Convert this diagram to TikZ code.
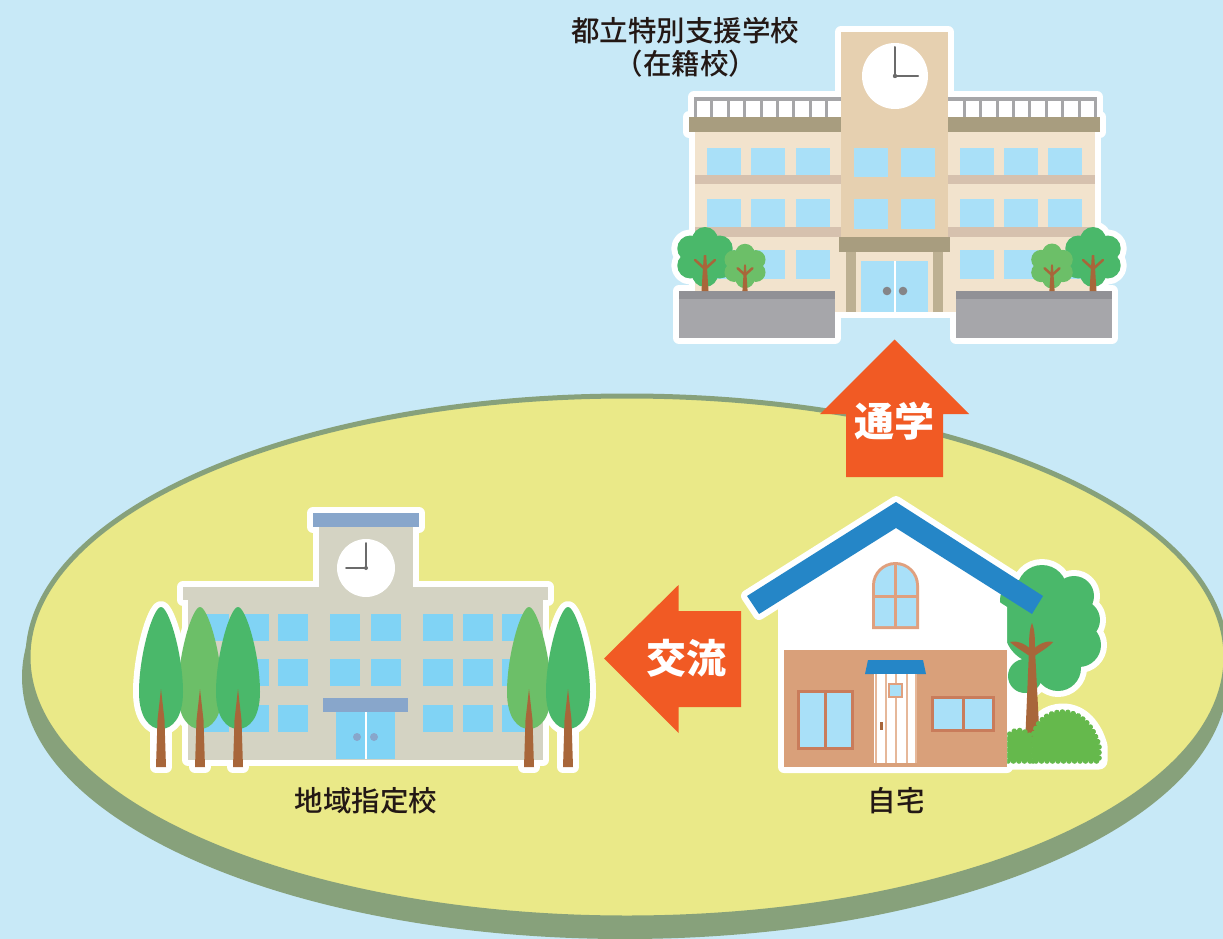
\documentclass[tikz,border=0pt]{standalone}
\usepackage{fontspec}
\usetikzlibrary{decorations.markings}
\newfontfamily\jp{Noto Sans CJK JP}
\newfontfamily\jpm{Noto Sans CJK JP Medium}
\definecolor{sky}{HTML}{C8E9F7}
\definecolor{meadow}{HTML}{EAE988}
\definecolor{rim}{HTML}{87A17B}
\definecolor{arrowc}{HTML}{F15A24}
\definecolor{towerc}{HTML}{E6D0B0}
\definecolor{wingc}{HTML}{F2E3CD}
\definecolor{bandc}{HTML}{D6C1AE}
\definecolor{corn}{HTML}{A89D7F}
\definecolor{pillar}{HTML}{BDB092}
\definecolor{glass}{HTML}{A9E0F8}
\definecolor{railc}{HTML}{A6A6A8}
\definecolor{plantop}{HTML}{919196}
\definecolor{plant}{HTML}{A6A6AA}
\definecolor{leafA}{HTML}{4AB86A}
\definecolor{leafB}{HTML}{6CBF68}
\definecolor{trunk}{HTML}{A8663A}
\definecolor{stone}{HTML}{D4D3C3}
\definecolor{capc}{HTML}{88A6CB}
\definecolor{glassB}{HTML}{80D3F5}
\definecolor{roofc}{HTML}{2586C7}
\definecolor{brick}{HTML}{D9A07A}
\definecolor{salmon}{HTML}{E0A07E}
\definecolor{doorline}{HTML}{E6B89A}
\definecolor{framec}{HTML}{C97C5B}
\definecolor{bushc}{HTML}{65B94C}
\definecolor{ink}{HTML}{231815}
\definecolor{hand}{HTML}{6B6B6B}

\tikzset{
  outline/.style={draw=white, fill=white, line width=12pt, line join=round},
  lbl/.style={font=\jpm\fontsize{28.5}{31}\selectfont, text=ink, inner sep=0pt},
  arrowlbl/.style={font=\jp\bfseries\fontsize{40}{44}\selectfont, text=white, inner sep=0pt},
  scalloped/.style={postaction={decorate, decoration={markings,
      mark=between positions 0 and 1 step 5.5pt with {\fill[bushc] (0,0) circle[radius=2.8];}}}},
}

% round deciduous canopy: x, y, scale, path style
\newcommand\roundcanopy[4]{%
  \begin{scope}[shift={(#1,#2)},scale=#3]
    \path[#4] (0,0) circle[radius=18]
      (30:17) circle[radius=13] (90:17) circle[radius=13]
      (150:17) circle[radius=13] (210:17) circle[radius=13]
      (270:17) circle[radius=13] (330:17) circle[radius=13];
  \end{scope}}
% trunk of a round tree standing on the planter top (y=291)
\newcommand\roundtrunk[3]{%
  \begin{scope}[shift={(#1,#2)},scale=#3]
    \fill[trunk] (-1.2,-2) -- (1.2,-2) -- (3.5,{(291-#2)/#3}) -- (-3.5,{(291-#2)/#3}) -- cycle;
    \draw[trunk, line width=2.5pt, line cap=round] (-10,3) -- (0,12) -- (10,3);
  \end{scope}}
% cypress canopy: centre x, path style
\newcommand\cypcanopy[2]{%
  \path[#2] (#1,607) .. controls ({#1+8},607) and ({#1+22},655) .. ({#1+22},692)
    .. controls ({#1+22},718) and ({#1+11},729) .. (#1,729)
    .. controls ({#1-11},729) and ({#1-22},718) .. ({#1-22},692)
    .. controls ({#1-22},655) and ({#1-8},607) .. (#1,607) -- cycle;}
\newcommand\cyptrunk[1]{%
  \fill[trunk] (#1,689) -- ({#1+3.5},720) -- ({#1+5},767) -- ({#1-5},767) -- ({#1-3.5},720) -- cycle;}
% canopy of the tree beside the house
\newcommand\housecanopy[1]{%
  \path[#1] (1040,628) circle[radius=36] (1042,590) circle[radius=25] (1074,596) circle[radius=20]
    (1080,620) circle[radius=20] (1079,645) circle[radius=22] (1058,668) circle[radius=23]
    (1025,676) circle[radius=17] (1020,600) circle[radius=20];}
% shrubs beside the house
\newcommand\bigbush[1]{%
  \path[#1] (1033,761) -- (1033,737) .. controls (1036,722) and (1047,712) .. (1063,712)
    .. controls (1082,712) and (1094,728) .. (1099,746) -- (1099,761) -- cycle;}
\newcommand\smallbush[1]{%
  \path[#1] (1008,761) -- (1008,736) .. controls (1013,729) and (1024,728) .. (1031,737) -- (1031,761) -- cycle;}

\begin{document}
\begin{tikzpicture}[x=1pt,y=-1pt,line join=round]
\useasboundingbox (0,0) rectangle (1223,939);
\fill[sky] (0,0) rectangle (1223,939);

% ---------- ground island ----------
\fill[rim] (625,677) ellipse[x radius=603, y radius=262];
\filldraw[fill=meadow, draw=rim, line width=5pt] (627,657) ellipse[x radius=599, y radius=261];

% ---------- special support school (top) ----------
\path[outline] (841,32) rectangle (948,312);
\path[outline] (694,97) rectangle (1097,117);
\path[outline] (689,117) rectangle (1100,132);
\path[outline] (695,132) rectangle (1095,312);
\path[outline] (679,291) rectangle (835,338);
\path[outline] (956,291) rectangle (1112,338);
\roundcanopy{705}{257}{1}{outline}
\roundcanopy{745}{266}{0.74}{outline}
\roundcanopy{1052}{266}{0.75}{outline}
\roundcanopy{1093}{257}{1}{outline}

% railing
\fill[railc] (694,97) rectangle (1097,101);
\fill[white] (694,101) rectangle (1097,117);
\foreach \i in {0,...,8} {
  \fill[railc] ({694+16.4*\i},101) rectangle ({697+16.4*\i},117);
  \fill[railc] ({1094-16.4*\i},101) rectangle ({1097-16.4*\i},117);
}
% cornice and wings
\fill[corn] (689,117) rectangle (1100,132);
\fill[wingc] (695,132) rectangle (1095,312);
\fill[bandc] (695,175) rectangle (1095,184);
\fill[bandc] (695,227) rectangle (1095,237);
\foreach \x in {707,751,796,960,1004,1048}
  \foreach \y/\yy in {148/175,199/227,250/279}
    \fill[glass] (\x,\y) rectangle ({\x+34},\yy);
% clock tower
\fill[towerc] (841,32) rectangle (948,237);
\foreach \x in {854,901}
  \foreach \y/\yy in {148/177,199/229}
    \fill[glass] (\x,\y) rectangle ({\x+34},\yy);
\fill[white] (895,76) circle[radius=33];
\draw[hand, line width=2pt, line cap=round] (895,47) -- (895,76) -- (918,76);
\fill[hand] (895,76) circle[radius=2.2];
% entrance
\fill[corn] (839,237) rectangle (950,252);
\fill[wingc] (846,252) rectangle (943,312);
\fill[pillar] (846,252) rectangle (856,312);
\fill[pillar] (933,252) rectangle (943,312);
\fill[glass] (861,261) rectangle (928,312);
\draw[white, line width=2pt] (894.5,261) -- (894.5,312);
\fill[plant!80!black] (887,291) circle[radius=4.3] (903,291) circle[radius=4.3];
% planters
\fill[plantop] (679,291) rectangle (835,299);
\fill[plant] (679,299) rectangle (835,338);
\fill[plantop] (956,291) rectangle (1112,299);
\fill[plant] (956,299) rectangle (1112,338);
% trees
\roundcanopy{705}{257}{1}{fill=leafA}
\roundtrunk{705}{257}{1}
\roundcanopy{745}{266}{0.74}{fill=leafB}
\roundtrunk{745}{266}{0.74}
\roundcanopy{1093}{257}{1}{fill=leafA}
\roundtrunk{1093}{257}{1}
\roundcanopy{1052}{266}{0.75}{fill=leafB}
\roundtrunk{1052}{266}{0.75}

\node[lbl] (special) at (685,31) {都立特別支援学校};
\node[lbl] (enrolled) at (686,64) {（在籍校）};

% ---------- arrows ----------
\fill[arrowc] (894.5,339.5) -- (969,414) -- (943,414) -- (943,477) -- (846,477) -- (846,414) -- (820,414) -- cycle;
\node[arrowlbl] (commute) at (894.5,421) {通学};
\fill[arrowc] (604,658.5) -- (678.5,585) -- (678.5,611) -- (741,611) -- (741,707) -- (678.5,707) -- (678.5,733) -- cycle;
\node[arrowlbl] (exchange) at (686,658) {交流};

% ---------- designated local school ----------
\path[outline] (313,513) rectangle (419,527);
\path[outline] (319,527) rectangle (413,590);
\path[outline] (183,587) rectangle (548,600);
\path[outline] (188,600) rectangle (543,760);
\foreach \c in {161,200,238,529,568} {
  \cypcanopy{\c}{outline}
  \path[outline] ({\c-5},700) rectangle ({\c+5},767);
}
\fill[capc] (313,513) rectangle (419,527);
\fill[stone] (319,527) rectangle (413,590);
\fill[stone] (183,587) rectangle (548,600);
\fill[stone] (188,600) rectangle (543,760);
\fill[white] (366,568) circle[radius=29];
\draw[hand, line width=2pt, line cap=round] (366,543) -- (366,568) -- (346,568);
\fill[hand] (366,568) circle[radius=2];
\foreach \x in {199,239,278,330,371,423,463,502}
  \foreach \y in {614,659}
    \fill[glassB] (\x,\y) rectangle ({\x+30},{\y+27});
\foreach \x in {199,239,278,423,463,502}
  \fill[glassB] (\x,705) rectangle ({\x+30},732);
\fill[capc] (323,698) rectangle (408,712);
\fill[glassB] (336,712) rectangle (395,759);
\draw[white, line width=2pt] (365.5,712) -- (365.5,759);
\fill[capc] (357,737) circle[radius=4] (374,737) circle[radius=4];
% cypresses
\cypcanopy{200}{fill=leafB}\cyptrunk{200}
\cypcanopy{161}{fill=leafA}\cyptrunk{161}
\cypcanopy{238}{fill=leafA}\cyptrunk{238}
\cypcanopy{529}{fill=leafB}\cyptrunk{529}
\cypcanopy{568}{fill=leafA}\cyptrunk{568}

\node[lbl] (local) at (366,801) {地域指定校};

% ---------- home ----------
% white rims
\path[outline] (747,596) -- (896,502) -- (1043,596) -- (1032,614) -- (896,528) -- (759,614) -- cycle;
\path[outline] (784,767) -- (784,610) -- (896,536) -- (1007,607) -- (1007,767) -- cycle;
\housecanopy{outline}
\path[outline] (1007,690) rectangle (1030,761);
\bigbush{outline, line width=17pt}
\smallbush{outline, line width=17pt}
% tree beside the house
\housecanopy{fill=leafA}
\fill[trunk] (1032,623) .. controls (1035,630) and (1035,640) .. (1035,650) -- (1040,745) -- (1025,745) -- (1029,650)
  .. controls (1029,640) and (1029,630) .. (1032,623) -- cycle;
\fill[trunk] (1010,642) .. controls (1018,640) and (1028,645) .. (1033,652) -- (1031,657) .. controls (1024,652) and (1015,647) .. (1010,642) -- cycle;
\fill[trunk] (1053,642) .. controls (1046,640) and (1036,645) .. (1031,652) -- (1033,657) .. controls (1040,652) and (1049,647) .. (1053,642) -- cycle;
% shrubs with scalloped edges
\smallbush{fill=bushc, scalloped}
\bigbush{fill=bushc, scalloped}
% house body
\fill[white] (784,767) -- (784,610) -- (896,536) -- (1007,607) -- (1007,767) -- cycle;
\fill[brick] (784,650) rectangle (1007,767);
% arched window
\fill[salmon] (872,629) -- (872,585.5) arc[start angle=180, end angle=360, radius=23.5] -- (919,629) -- cycle;
\fill[glass] (875,626) -- (875,585.5) arc[start angle=180, end angle=360, radius=20.5] -- (916,626) -- cycle;
\draw[salmon, line width=3pt] (895.5,562) -- (895.5,629) (872,596) -- (919,596);
% door
\fill[roofc] (868,660) -- (923,660) -- (926,674) -- (865,674) -- cycle;
\fill[white] (874,674) rectangle (917,763);
\foreach \x in {875.5,885.5,896,906.5,915.5}
  \draw[doorline, line width=2pt] (\x,674) -- (\x,763);
\fill[salmon] (888,683) rectangle (903,698);
\fill[glass] (890,685) rectangle (901,696);
\fill[trunk] (880,722) rectangle (882.5,730);
% windows
\fill[framec] (797,690) rectangle (854,750);
\fill[glass] (800,693) rectangle (851,747);
\draw[framec, line width=3pt] (825.5,690) -- (825.5,750);
\fill[framec] (931,696) rectangle (995,732);
\fill[glass] (934,699) rectangle (992,729);
\draw[framec, line width=3pt] (963,696) -- (963,732);
% roof
\fill[roofc] (747,596) -- (896,502) -- (1043,596) -- (1032,614) -- (896,528) -- (759,614) -- cycle;

\node[lbl] (home) at (896,801) {自宅};
\end{tikzpicture}
\end{document}
